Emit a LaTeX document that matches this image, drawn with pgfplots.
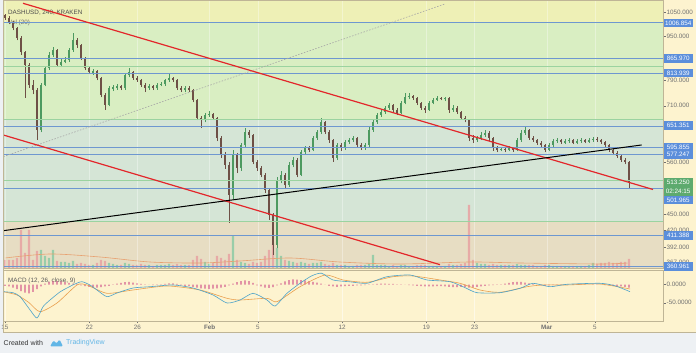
\documentclass[border=0pt]{standalone}
\usepackage{pgfplots}
\pgfplotsset{compat=1.18}
\usepackage{pgfplotstable}
\usepackage{fontspec}
\setmainfont{Liberation Sans}
\definecolor{footbg}{HTML}{EEF1F4}
\definecolor{cream}{HTML}{FDF3CF}
\definecolor{bandA}{HTML}{EEF0B6}
\definecolor{bandB}{HTML}{D9EEC2}
\definecolor{bandC}{HTML}{D5E5D6}
\definecolor{bandD}{HTML}{E7DDC3}
\definecolor{border}{HTML}{BFB596}
\definecolor{hblue}{HTML}{6E97D0}
\definecolor{fibg}{HTML}{9BD3A0}
\definecolor{tlred}{HTML}{E3262A}
\definecolor{candUp}{HTML}{4D9A60}
\definecolor{candDn}{HTML}{6E5046}
\definecolor{volUp}{HTML}{8CCBA5}
\definecolor{volDn}{HTML}{E8A2A2}
\definecolor{volMA}{HTML}{E8A070}
\definecolor{macdc}{HTML}{4DA3C9}
\definecolor{sigc}{HTML}{E9A04E}
\definecolor{histc}{HTML}{D4608F}
\definecolor{lblblue}{HTML}{5B8EDB}
\definecolor{lblgreen}{HTML}{5DAA6E}
\definecolor{tickgray}{HTML}{707070}
\definecolor{tvblue}{HTML}{62B6E6}
\newcommand{\lbl}{\fontsize{6.3}{7}\selectfont}

\pgfplotstableread{
i o h l c v
9 642 780 635 775 18
10 775 840 770 832 12
11 832 890 825 879 10
12 879 909 870 898 18
14 843 865 835 854 6
15 854 870 848 861 6
16 861 905 855 898 5
17 898 964 890 936 7
22 815 828 808 820 3
26 713 770 708 765 5
27 763 775 755 768 4
28 766 778 760 770 3
30 765 812 760 808 5
31 808 832 800 818 4
36 765 778 760 772 3
38 765 780 760 775 3
39 775 785 770 778 3
40 778 796 772 791 3
41 791 815 786 798 4
45 759 770 752 765 3
50 669 690 662 683 6
51 683 695 678 686 4
57 488 590 480 578 32
59 547 608 540 602 6
60 602 647 598 636 5
68 396 525 390 520 20
69 520 540 512 531 12
71 509 560 505 554 7
72 554 572 548 566 6
74 531 590 528 585 6
75 585 600 580 595 5
77 590 625 586 620 5
78 620 642 615 636 5
79 636 675 630 663 6
83 570 608 565 602 3
85 595 615 590 610 3
86 610 620 605 615 2
87 615 626 610 620 2
90 595 608 590 602 3
91 602 648 598 642 4
92 642 670 636 663 13
93 663 690 658 683 3
94 683 698 678 692 3
95 692 710 686 704 3
96 704 718 698 713 2
99 689 724 685 719 3
100 719 750 714 737 3
101 737 748 730 740 2
106 698 724 694 719 2
107 719 734 714 728 2
108 728 740 724 734 2
110 729 738 724 733 2
112 698 712 692 704 3
118 615 626 610 620 5
119 620 636 615 628 4
120 628 642 622 634 4
124 590 598 586 592 3
126 590 600 586 595 3
128 590 620 586 615 4
129 615 640 610 634 3
130 634 650 628 642 3
136 590 608 586 602 3
137 602 616 598 612 2
138 612 620 608 615 2
140 608 616 604 612 2
141 612 620 608 615 2
143 608 616 604 612 2
144 612 620 608 615 2
146 610 620 607 615 3
147 615 622 610 618 5
}\tup

\pgfplotstableread{
i o h l c v
0 1040 1045 1020 1027 8
1 1027 1035 1000 1010 8
2 1010 1015 975 985 8
3 985 990 935 944 10
4 944 950 880 890 38
5 890 895 734 843 15
6 843 850 765 775 38
7 775 790 745 759 8
8 759 765 615 642 17
13 898 900 835 843 7
18 936 945 905 917 4
19 917 920 860 868 5
20 868 872 825 832 4
21 832 840 810 818 3
23 820 825 790 798 5
24 798 800 735 743 8
25 743 750 698 713 7
29 770 776 758 765 3
32 818 822 792 798 3
33 798 805 785 791 3
34 791 795 768 775 4
35 775 780 752 765 3
37 772 776 758 765 2
42 798 802 784 791 3
43 791 795 758 765 4
44 765 770 752 759 3
46 765 770 752 759 3
47 759 762 720 728 8
48 728 732 668 675 12
49 675 680 647 669 9
52 686 690 668 675 5
53 675 678 612 620 12
54 620 625 570 578 10
55 578 585 545 554 8
56 554 560 434 488 14
58 578 582 535 547 8
61 636 640 620 628 4
62 628 630 555 561 6
63 561 565 540 547 5
64 547 552 525 531 6
65 531 535 492 499 12
66 499 502 440 449 18
67 449 452 379 396 24
70 531 536 500 509 8
73 566 570 525 531 5
76 595 600 584 590 4
80 663 666 630 636 4
81 636 640 608 615 3
82 615 618 561 570 5
84 602 606 588 595 3
88 620 623 597 602 3
89 602 606 590 595 3
97 713 716 692 698 3
98 698 702 683 689 2
102 740 744 728 734 2
103 734 738 712 719 3
104 719 722 698 704 3
105 704 710 690 698 3
109 734 738 726 731 2
111 733 736 690 698 4
113 704 708 686 692 3
114 692 695 670 675 4
115 675 680 662 669 5
116 669 672 612 620 63
117 620 628 608 615 8
121 634 638 612 620 3
122 620 622 588 595 4
123 595 600 584 590 3
125 592 596 584 590 3
127 595 598 585 590 3
131 642 645 615 620 3
132 620 624 610 615 3
133 615 618 602 608 2
134 608 612 596 602 2
135 602 605 584 590 3
139 615 618 605 610 2
142 615 618 604 608 2
145 615 618 606 610 2
148 618 622 610 615 4
149 615 618 605 610 5
150 610 612 597 602 5
151 602 605 585 590 6
152 590 593 577 582 5
153 582 586 570 575 5
154 575 578 561 566 6
155 566 570 555 561 6
156 561 563 503 513.25 9
}\tdn

\pgfplotstableread{
i h
0 -3
1 -5
2 -8
3 -12
4 -18
5 -22
6 -24
7 -20
8 -12
9 -5
10 3
11 8
12 10
13 10
14 9
15 7
16 5
17 3
18 2
19 -2
20 -4
21 -6
22 -8
23 -8
24 -7
25 -5
26 -3
27 1
28 3
29 5
30 7
31 8
32 6
33 4
34 2
35 1
36 0.3
37 -1
38 -0.3
39 1
40 2
41 4
42 4
43 2
44 -2
45 -3
46 -4
47 -6
48 -8
49 -10
50 -11
51 -12
52 -11
53 -10
54 -8
55 -6
56 -2
57 3
58 7
59 10
60 12
61 10
62 5
63 -2
64 -5
65 -8
66 -9
67 -7
68 -2
69 4
70 9
71 13
72 15
73 14
74 13
75 12
76 10
77 8
78 6
79 3
80 0.3
81 -3
82 -5
83 -6
84 -5
85 -4
86 -3
87 -3
88 -2
89 -2
90 -1
91 -0.3
92 1
93 2
94 3
95 3
96 2
97 2
98 1
99 1
100 0.3
101 -1
102 -2
103 -3
104 -4
105 -5
106 -5
107 -5
108 -4
109 -4
110 -5
111 -6
112 -7
113 -7
114 -6
115 -7
116 -8
117 -8
118 -6
119 -5
120 -3
121 -2
122 -1
123 -0.3
124 1
125 3
126 5
127 7
128 8
129 8
130 6
131 4
132 2
133 0.3
134 -2
135 -3
136 -2
137 -1
138 -0.3
139 1
140 1
141 0.3
142 1
143 2
144 2
145 1
146 0.3
147 1
148 1
149 0.3
150 -1
151 -2
152 -3
153 -4
154 -5
155 -6
156 -8
}\thist

\begin{document}
\begin{tikzpicture}[x=1pt,y=1pt]
\useasboundingbox (0,0) rectangle (696,353);
\fill[footbg] (0,0) rectangle (696,353);
\fill[cream] (3.3,21) rectangle (696,353);
\fill[bandA] (3.3,331) rectangle (663,353);
\fill[bandB] (3.3,233.5) rectangle (663,331);
\fill[bandC] (3.3,131.5) rectangle (663,233.5);
\fill[bandD] (3.3,85) rectangle (663,131.5);

% titles
\node[anchor=west, font=\lbl, text=black!70, inner sep=0pt] at (8,340) {DASHUSD, 240, KRAKEN};
\node[anchor=west, font=\lbl, text=black!55, inner sep=0pt] at (8,330.5) {Vol (20)};
\node[anchor=west, font=\lbl, text=black!65, inner sep=0pt] at (8,72) {MACD (12, 26, close, 9)};

% volume
\begin{axis}[at={(3.3pt,85pt)}, anchor=south west, scale only axis,
  width=659.7pt, height=268pt, xmin=-0.141, xmax=54.65, ymin=0, ymax=2680,
  hide axis, clip=true]
\addplot[ybar, bar width=2.2pt, bar shift=0pt, fill=volUp, draw=none, fill opacity=0.85]
  table[x expr=\thisrow{i}*0.3322, y expr=\thisrow{v}*10] {\tup};
\addplot[ybar, bar width=2.2pt, bar shift=0pt, fill=volDn, draw=none, fill opacity=0.85]
  table[x expr=\thisrow{i}*0.3322, y expr=\thisrow{v}*10] {\tdn};
\addplot[volMA, line width=0.6pt, smooth] coordinates {(0,100) (3.74,140) (7.89,110) (12.04,60) (16.2,50) (19.5,70) (23.67,100) (27.8,60) (32.8,40) (38.6,60) (42.8,50) (49.4,40) (51.7,50)};
\end{axis}

% price
\begin{axis}[at={(3.3pt,85pt)}, anchor=south west, scale only axis,
  width=659.7pt, height=268pt, xmin=-0.141, xmax=54.65,
  ymode=log, ymin=358.9, ymax=1107.6,
  axis line style={draw=border, line width=0.6pt},
  xtick={0,7,11,17,21,28,35,39,45,49}, xticklabels={}, xtick style={draw=none},
  xmajorgrids, grid style={white, opacity=0.35, line width=0.5pt},
  ytick={1050,950,790,710,560,450,420,392,367},
  yticklabels={1050.000,950.000,790.000,710.000,560.000,450.000,420.000,392.000,367.000},
  yminorticks=false, ytick pos=right, yticklabel pos=right,
  tick align=outside, major tick length=2.5pt,
  ytick style={draw=tickgray, line width=0.4pt},
  yticklabel style={font=\lbl, text=tickgray, inner sep=1pt},
  clip=true]
% candles
\addplot[draw=none, forget plot, error bars/.cd, y dir=plus, y explicit, error mark=none,
  error bar style={draw=candUp, line width=0.6pt}]
  table[x expr=\thisrow{i}*0.3322, y=l, y error expr=\thisrow{h}-\thisrow{l}] {\tup};
\addplot[draw=none, forget plot, error bars/.cd, y dir=plus, y explicit, error mark=none,
  error bar style={draw=candUp, line width=2.1pt}]
  table[x expr=\thisrow{i}*0.3322, y=o, y error expr=\thisrow{c}-\thisrow{o}] {\tup};
\addplot[draw=none, forget plot, error bars/.cd, y dir=plus, y explicit, error mark=none,
  error bar style={draw=candDn, line width=0.6pt}]
  table[x expr=\thisrow{i}*0.3322, y=l, y error expr=\thisrow{h}-\thisrow{l}] {\tdn};
\addplot[draw=none, forget plot, error bars/.cd, y dir=plus, y explicit, error mark=none,
  error bar style={draw=candDn, line width=2.1pt}]
  table[x expr=\thisrow{i}*0.3322, y=c, y error expr=\thisrow{o}-\thisrow{c}] {\tdn};
% fib lines
\addplot[fibg, line width=0.5pt] coordinates {(-1,836.8) (60,836.8)};
\addplot[fibg, line width=0.5pt] coordinates {(-1,670.1) (60,670.1)};
\addplot[fibg, line width=0.5pt] coordinates {(-1,518.5) (60,518.5)};
\addplot[fibg, line width=0.5pt] coordinates {(-1,436.4) (60,436.4)};
% horizontal levels
\addplot[hblue, line width=1pt] coordinates {(-1,1006.854) (60,1006.854)};
\addplot[hblue, line width=1pt] coordinates {(-1,865.970) (60,865.970)};
\addplot[hblue, line width=1pt] coordinates {(-1,813.939) (60,813.939)};
\addplot[hblue, line width=1pt] coordinates {(-1,651.351) (60,651.351)};
\addplot[hblue, line width=1pt] coordinates {(-1,595.855) (60,595.855)};
\addplot[hblue, line width=1pt] coordinates {(-1,577.247) (60,577.247)};
\addplot[hblue, line width=1pt] coordinates {(-1,501.965) (60,501.965)};
\addplot[hblue, line width=1pt] coordinates {(-1,411.388) (60,411.388)};
\addplot[hblue, line width=1pt] coordinates {(-1,360.961) (60,360.961)};
% trend lines
\addplot[gray!70, line width=0.6pt, dash pattern=on 1.5pt off 1.5pt] coordinates {(-0.14,573.1) (36.54,1089.2)};
\addplot[tlred, line width=1.2pt] coordinates {(1.495,1092.3) (53.82,499.2)};
\addplot[tlred, line width=1.2pt] coordinates {(-0.14,627.8) (36.13,363.9)};
\addplot[black, line width=1pt] coordinates {(-0.14,419.8) (52.88,602.0)};
\end{axis}

% MACD
\begin{axis}[at={(3.3pt,32pt)}, anchor=south west, scale only axis,
  width=659.7pt, height=51pt, xmin=-0.141, xmax=54.65, ymin=-100.8, ymax=40.8,
  axis line style={draw=border, line width=0.6pt},
  xtick={0,7,11,17,21,28,35,39,45,49},
  xticklabels={15,22,26,\textbf{Feb},5,12,19,23,\textbf{Mar},5},
  xtick pos=left, xmajorgrids, grid style={white, opacity=0.5, line width=0.5pt},
  ytick={0,-50}, yticklabels={0.0000,-50.0000},
  ytick pos=right, yticklabel pos=right,
  tick align=outside, major tick length=2.5pt,
  tick style={draw=tickgray, line width=0.4pt},
  yticklabel style={font=\lbl, text=tickgray, inner sep=1pt},
  xticklabel style={font=\lbl, text=tickgray, inner sep=1pt},
  clip=true]
\addplot[ybar, bar width=1.4pt, bar shift=0pt, fill=histc, draw=none]
  table[x expr=\thisrow{i}*0.3322, y=h] {\thist};
\addplot[sigc, line width=0.6pt, smooth, tension=0.4] coordinates {
(-0.17,-19.4) (1.0,-28.6) (2.0,-50) (2.91,-75.0) (4.32,-50.8) (5.98,-0.8) (6.81,-0.8)
(8.47,-23.9) (10.63,-14.7) (13.46,-3.6) (16.20,-14.7) (18.44,-37.8) (19.52,-42.5)
(21.76,-37.8) (22.59,-47.2) (24.50,-5.6) (26.58,26.9) (28.07,13.1) (30.07,6.7)
(32.23,22.2) (33.89,24.2) (36.13,13.1) (37.79,3.9) (39.45,-14.7) (41.11,-21.1)
(43.36,-5.6) (44.68,-0.8) (46.68,-0.8) (49.42,1.9) (51.91,-12)};
\addplot[macdc, line width=0.6pt, smooth, tension=0.4] coordinates {
(-0.17,-19.4) (0.66,-22.2) (1.25,-33) (2.08,-70) (2.66,-92.5) (3.16,-61) (3.74,-42.5)
(4.57,-20) (5.15,-9.2) (5.81,2) (6.40,8.3) (7.06,-1) (7.64,-14.7) (8.47,-33.3)
(9.30,-23.1) (10.63,-9.2) (12.04,-5.6) (13.95,-0.8) (15.61,-9.2) (17.28,-28.6)
(18.44,-50.8) (19.52,-42.5) (20.60,-23.9) (21.76,-42.5) (22.43,-59.2) (23.42,-23.9)
(24.50,3.9) (25.50,25) (26.30,31.7) (27.24,13.1) (28.65,8) (30.07,3.9) (31.73,22.2)
(33.64,26.9) (35.05,13.1) (36.96,8.3) (38.2,-8) (39.20,-22.2) (41.11,-22.2)
(42.77,-10) (43.85,3.9) (45.27,-5.6) (46.68,1.1) (49.42,3.9) (50.66,-3) (51.91,-19.4)};
\end{axis}

% frame lines
\draw[border, line width=0.6pt] (3.3,21) -- (3.3,353);
\draw[border, line width=0.6pt] (3.3,21) -- (696,21);

% price labels
\tikzset{plbl/.style={fill=lblblue, text=white, font=\lbl, inner sep=0pt,
  minimum width=29pt, minimum height=8.5pt, anchor=west}}
\node[plbl] at (663.5,330) {1006.854};
\node[plbl] at (663.5,294.3) {865.970};
\node[plbl] at (663.5,280) {813.939};
\node[plbl] at (663.5,227.3) {651.351};
\node[plbl] at (663.5,205.7) {595.855};
\node[plbl] at (663.5,198.7) {577.247};
\node[plbl, fill=lblgreen] at (663.5,170.7) {513.250};
\node[plbl, fill=lblgreen] at (663.5,161.7) {02:24:15};
\node[plbl] at (663.5,153) {501.965};
\node[plbl] at (663.5,117.7) {411.388};
\node[plbl] at (663.5,86.7) {360.961};

% footer
\node[anchor=west, font=\fontsize{7}{8}\selectfont, text=black!80, inner sep=0pt] at (3.5,10) {Created with};
\fill[tvblue, rounded corners=1.2pt] (50,6.5) -- (53.5,12.5) -- (56.5,9.5) -- (59.5,13.5) -- (63,6.5) -- cycle;
\node[anchor=west, font=\fontsize{7}{8}\selectfont, text=tvblue, inner sep=0pt] at (66,10) {TradingView};
\end{tikzpicture}
\end{document}
